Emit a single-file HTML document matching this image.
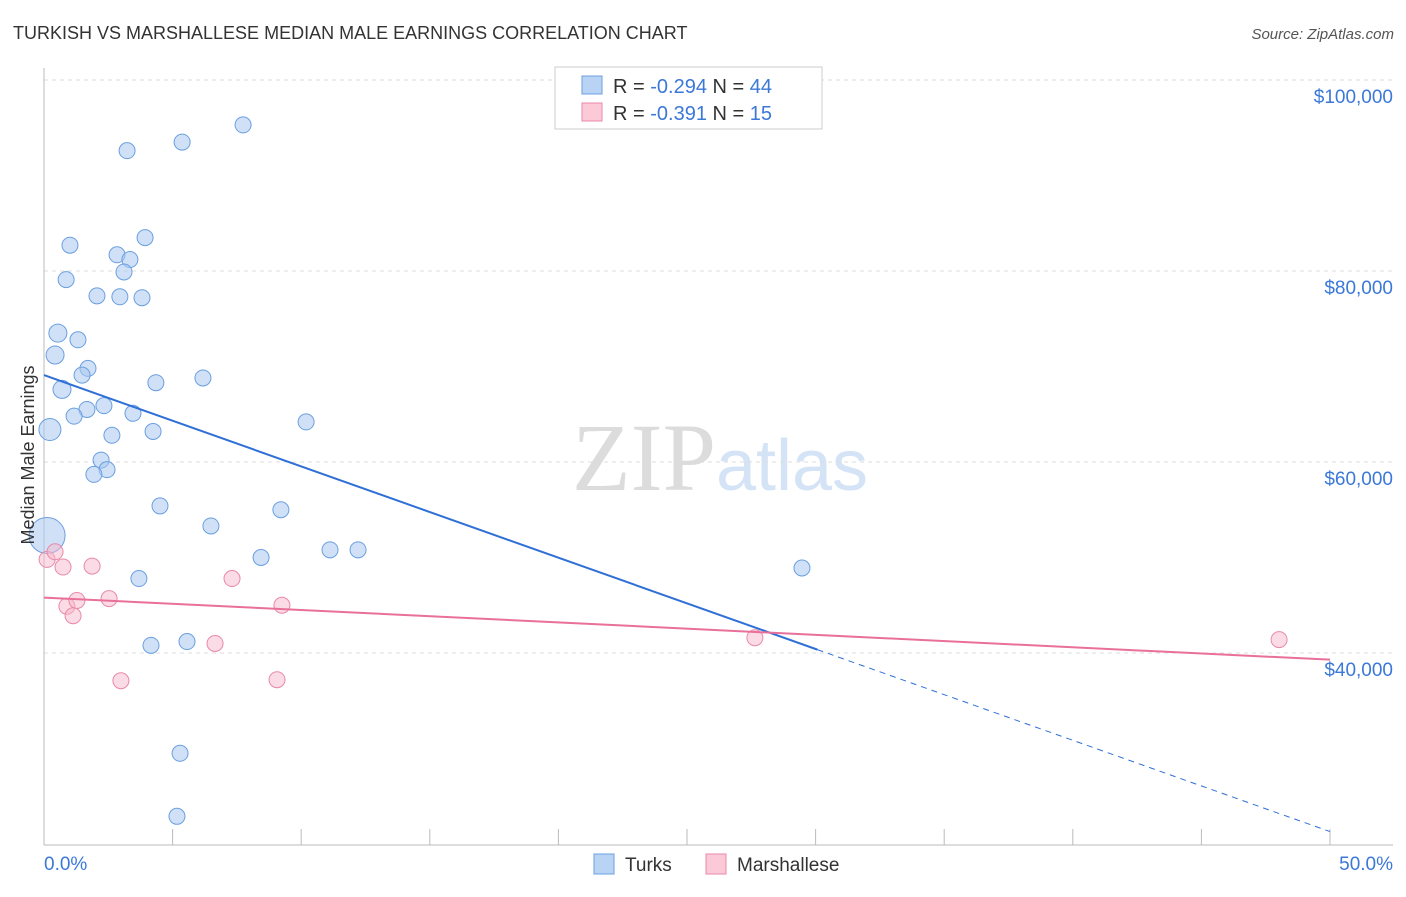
<!DOCTYPE html>
<html><head><meta charset="utf-8"><style>
body{margin:0;background:#fff;font-family:"Liberation Sans",sans-serif}
svg text{font-family:"Liberation Sans",sans-serif}
</style></head><body>
<svg id="c" width="1406" height="892" viewBox="0 0 1406 892">
<text x="13" y="39" font-size="18" fill="#333">TURKISH VS MARSHALLESE MEDIAN MALE EARNINGS CORRELATION CHART</text>
<text x="1394" y="39" font-size="15" fill="#555" text-anchor="end" font-style="italic">Source: ZipAtlas.com</text>
<text x="720" y="490" font-size="96" fill="#e4e4e4" text-anchor="middle" font-family="Liberation Serif"><tspan font-family="Liberation Serif" fill="#dcdcdc">ZIP</tspan><tspan font-family="Liberation Sans" fill="#d4e3f5" font-size="72">atlas</tspan></text>
<g id="grid"></g><g id="axes"></g><g id="marks"></g>
<text transform="translate(34,455) rotate(-90)" font-size="18" fill="#333" text-anchor="middle">Median Male Earnings</text>
<g>
<rect x="555" y="67" width="267" height="62" fill="#fff" stroke="#ccc"/>
<rect x="582" y="76" width="20" height="18" fill="#b8d3f3" stroke="#6a9fe0"/>
<rect x="582" y="103" width="20" height="18" fill="#fbc9d8" stroke="#e88aa8"/>
<text x="613" y="93" font-size="20" fill="#333">R = <tspan fill="#3b78d8">-0.294</tspan>   N = <tspan fill="#3b78d8">44</tspan></text>
<text x="613" y="120" font-size="20" fill="#333">R =  <tspan fill="#3b78d8">-0.391</tspan>   N =  <tspan fill="#3b78d8">15</tspan></text>
</g>
<g>
<rect x="594" y="854" width="20" height="20" fill="#b8d3f3" stroke="#6a9fe0"/>
<text x="625" y="871" font-size="19" fill="#333">Turks</text>
<rect x="706" y="854" width="20" height="20" fill="#fbc9d8" stroke="#e88aa8"/>
<text x="737" y="871" font-size="19" fill="#333">Marshallese</text>
</g>
</svg>
<script>
const turksX=[7.74,3.23,5.37,1.01,3.93,2.84,3.34,3.11,0.86,2.06,2.95,3.81,0.54,1.32,0.43,1.71,1.48,0.70,4.35,6.18,2.33,1.67,1.17,3.46,10.19,0.23,2.64,4.24,2.22,2.45,1.94,4.51,6.49,9.21,0.12,8.44,11.12,12.21,3.69,29.47,4.16,5.56,5.29,5.17];
const turksY=[95300,92600,93500,82700,83500,81700,81200,79900,79100,77400,77300,77200,73500,72800,71200,69800,69100,67600,68300,68800,65900,65500,64800,65100,64200,63400,62800,63200,60200,59200,58700,55400,53300,55000,52300,50000,50800,50800,47800,48900,40800,41200,29500,22900];
const turksR=[8,8,8,8,8,8,8,8,8,8,8,8,9,8,9,8,8,9,8,8,8,8,8,8,8,11,8,8,8,8,8,8,8,8,18,8,8,8,8,8,8,8,8,8];
const marshX=[0.12,0.43,0.74,1.87,0.89,1.28,1.13,2.53,7.31,9.25,6.65,2.99,9.06,27.64,48.02];
const marshY=[49800,50600,49000,49100,44900,45500,43900,45700,47800,45000,41000,37100,37200,41600,41400];
const turksLine=[69100,-956]; // intercept, slope per %
const marshLine=[45800,-130];
const yTicks=[40000,60000,80000,100000];
const yTickLabels=["$40,000","$60,000","$80,000","$100,000"];
const xTickLabels=["0.0%","50.0%"];

const X=v=>44+v*25.72, Y=v=>80+(100000-v)/20000*191;
const NS="http://www.w3.org/2000/svg";
function mk(p,t,a){const e=document.createElementNS(NS,t);for(const k in a)e.setAttribute(k,a[k]);p.appendChild(e);return e;}
const grid=document.getElementById('grid'),axes=document.getElementById('axes'),marks=document.getElementById('marks');
yTicks.forEach((t,i)=>{
 const l=mk(grid,'line',{x1:44,x2:1393,y1:Y(t),y2:Y(t),stroke:'#ddd','stroke-dasharray':'4,4'});
 
 
 const tx=mk(axes,'text',{x:1393,y:Y(t)+23,'font-size':19,fill:'#3b78d8','text-anchor':'end'});tx.textContent=yTickLabels[i];
 
 
});
const tl=mk(grid,'line',{x1:44,x2:1393,y1:Y(100000),y2:Y(100000),stroke:'#ddd','stroke-dasharray':'4,4'});
let a=mk(axes,'line',{x1:44,x2:44,y1:68,y2:845,stroke:'#bbb'});


a=mk(axes,'line',{x1:44,x2:1393,y1:845,y2:845,stroke:'#bbb'});


for(let i=0;i<=10;i++){const t=mk(axes,'line',{x1:X(i*5),x2:X(i*5),y1:829,y2:845,stroke:'#bbb'});
 
 }
[[0,44,'start'],[1,1393,'end']].forEach(([i,x,an])=>{const t=mk(axes,'text',{x:x,y:870,'font-size':19,fill:'#3b78d8','text-anchor':an});t.textContent=xTickLabels[i];
 
 });
turksX.forEach((x,i)=>{const c=mk(marks,'circle',{cx:X(x),cy:Y(turksY[i]),r:turksR[i],fill:'#a9c8f0','fill-opacity':0.55,stroke:'#6a9fe0','stroke-width':1});
 
 });
marshX.forEach((x,i)=>{const c=mk(marks,'circle',{cx:X(x),cy:Y(marshY[i]),r:8,fill:'#f7b8cc','fill-opacity':0.5,stroke:'#e88aa8','stroke-width':1});
 
 });
const xe=Math.max(...turksX)+0.6;
let ln=mk(marks,'line',{x1:X(0),y1:Y(turksLine[0]),x2:X(xe),y2:Y(turksLine[0]+turksLine[1]*xe),stroke:'#2f6fd6','stroke-width':2});


ln=mk(marks,'line',{x1:X(xe),y1:Y(turksLine[0]+turksLine[1]*xe),x2:X(50),y2:Y(turksLine[0]+turksLine[1]*50),stroke:'#2f6fd6','stroke-width':1,'stroke-dasharray':'6,5'});


ln=mk(marks,'line',{x1:X(0),y1:Y(marshLine[0]),x2:X(50),y2:Y(marshLine[0]+marshLine[1]*50),stroke:'#e8709a','stroke-width':2});


</script>
</body></html>
